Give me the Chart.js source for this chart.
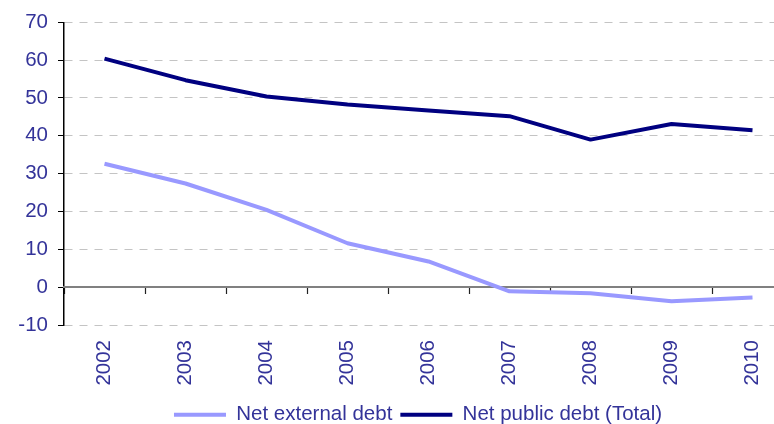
<!DOCTYPE html>
<html>
<head>
<meta charset="utf-8">
<script src="https://cdn.jsdelivr.net/npm/chart.js@4/dist/chart.umd.min.js"></script>
<style>
  html, body { margin: 0; padding: 0; background: #fff; overflow: hidden; width: 774px; height: 424px; }
  #c { display: block; }
</style>
</head>
<body>
<canvas id="c" width="800" height="435" style="width:800px;height:435px"></canvas>
<script>
const categories = ["2002", "2003", "2004", "2005", "2006", "2007", "2008", "2009", "2010"];
const netExternalDebt = [32.6, 27.4, 20.4, 11.6, 6.8, -1.1, -1.6, -3.7, -2.7];
const netPublicDebt = [60.4, 54.7, 50.4, 48.3, 46.7, 45.2, 39.0, 43.1, 41.5];
const seriesNames = ["Net external debt", "Net public debt (Total)"];
const yMin = -10, yMax = 70, yStep = 10;

const textColor = '#333399';
const fontFamily = '"Liberation Sans", Arial, sans-serif';
const fontSize = 20.5;

// shift the legend so that it is centred like the reference
const legendShift = {
  id: 'legendShift',
  afterLayout(chart) {
    const l = chart.legend;
    if (l) { l.left = 43; l.width = l.right - l.left; }
  }
};

new Chart(document.getElementById('c'), {
  type: 'line',
  data: {
    labels: categories,
    datasets: [
      { label: seriesNames[0], data: netExternalDebt, borderColor: '#9999ff', backgroundColor: '#9999ff',
        borderWidth: 4, pointRadius: 0, tension: 0, borderJoinStyle: 'round', xAxisID: 'x', yAxisID: 'y' },
      { label: seriesNames[1], data: netPublicDebt, borderColor: '#000080', backgroundColor: '#000080',
        borderWidth: 4, pointRadius: 0, tension: 0, borderJoinStyle: 'round', xAxisID: 'x', yAxisID: 'y' }
    ]
  },
  plugins: [legendShift],
  options: {
    responsive: false,
    animation: false,
    devicePixelRatio: 1,
    layout: { padding: { left: 0, right: 7, top: 21, bottom: 0 } },
    plugins: {
      tooltip: { enabled: false },
      legend: {
        position: 'bottom',
        labels: {
          color: textColor,
          font: { family: fontFamily, size: fontSize },
          boxWidth: 52,
          boxHeight: 4,
          padding: 8,
          generateLabels(chart) {
            const items = Chart.defaults.plugins.legend.labels.generateLabels(chart);
            items.forEach(i => { i.lineWidth = 0; i.fillStyle = i.strokeStyle; });
            return items;
          }
        }
      }
    },
    scales: {
      y: {
        position: 'left',
        min: yMin, max: yMax,
        ticks: { stepSize: yStep, color: textColor, font: { family: fontFamily, size: fontSize }, padding: 10 },
        grid: {
          color: ctx => (ctx.tick && ctx.tick.value === 0) ? 'rgba(0,0,0,0)' : '#c4c4c4',
          lineWidth: 1,
          drawTicks: true,
          tickLength: 6,
          tickColor: '#000'
        },
        border: { display: true, color: '#000', width: 1.5, dash: [8, 7] },
        afterFit(scale) { scale.width = 64; }
      },
      x: {
        position: 'bottom',
        offset: true,
        ticks: { color: textColor, font: { family: fontFamily, size: fontSize }, minRotation: 90, maxRotation: 90, autoSkip: false, padding: 7 },
        grid: { display: false },
        border: { display: false },
        afterFit(scale) { scale.height = 71.5; }
      },
      x0: {
        type: 'category',
        labels: categories,
        position: { y: 0 },
        offset: true,
        ticks: { display: false },
        grid: { display: true, offset: true, drawOnChartArea: false, drawTicks: true, tickLength: 6, tickColor: '#222', tickWidth: 1.2 },
        border: { display: true, color: '#808080', width: 2 }
      }
    }
  }
});
</script>
</body>
</html>
